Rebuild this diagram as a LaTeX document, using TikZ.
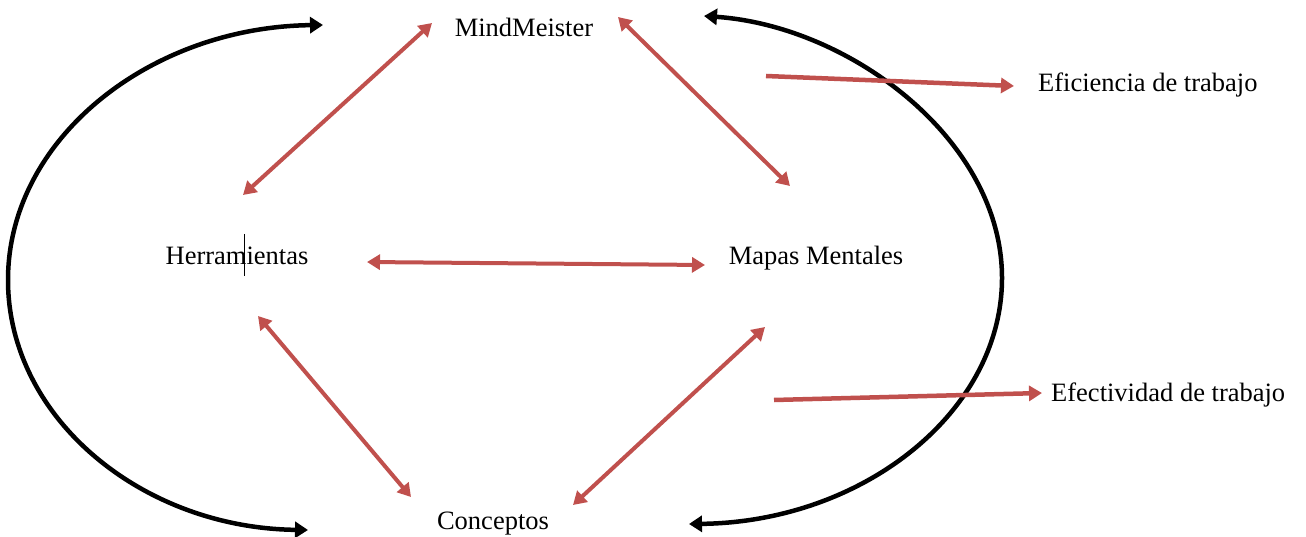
\documentclass[tikz,border=0pt]{standalone}
\usepackage{fontspec}
\setmainfont{Liberation Serif}
\usetikzlibrary{arrows.meta}
\definecolor{redarr}{RGB}{192,80,77}
\tikzset{
  lbl/.style={font=\fontsize{26.5}{30}\selectfont, anchor=base, inner sep=0pt},
  redtwo/.style={draw=redarr, line width=4pt, {Triangle[length=13pt,width=15pt]}-{Triangle[length=13pt,width=15pt]}},
  redone/.style={draw=redarr, line width=4.5pt, -{Triangle[length=13pt,width=15pt]}},
  blacktwo/.style={draw=black, line width=4.5pt, {Triangle[length=13pt,width=16pt]}-{Triangle[length=13pt,width=16pt]}}
}
\begin{document}
\begin{tikzpicture}[x=1pt,y=-1pt]
\useasboundingbox (0,0) rectangle (1306,537);
% labels
\node[lbl] (mind) at (524,37) {MindMeister};
\node[lbl] (herr) at (237,265) {Herramientas};
\node[lbl] (mapas) at (816,265) {Mapas Mentales};
\node[lbl] (conc) at (493,529) {Conceptos};
\node[lbl, anchor=base west] (efic) at (1038,92) {Eficiencia de trabajo};
\node[lbl, anchor=base west] (efec) at (1051,401) {Efectividad de trabajo};
% cursor mark
\coordinate (cur1) at (244,234);
\coordinate (cur2) at (244,276);
\draw[line width=0.8pt] (cur1) -- (cur2);
% red arrow endpoints
\coordinate (a1) at (243,195); \coordinate (a2) at (432,23);
\coordinate (b1) at (618,17);  \coordinate (b2) at (790,186);
\coordinate (c1) at (367,262); \coordinate (c2) at (705,265);
\coordinate (d1) at (258,316); \coordinate (d2) at (411,497);
\coordinate (e1) at (765,327); \coordinate (e2) at (573,505);
\coordinate (f1) at (766,76);  \coordinate (f2) at (1014,86);
\coordinate (g1) at (774,400); \coordinate (g2) at (1042,393);
\draw[redtwo] (a1) -- (a2);
\draw[redtwo] (b1) -- (b2);
\draw[redtwo] (c1) -- (c2);
\draw[redtwo] (d1) -- (d2);
\draw[redtwo] (e1) -- (e2);
% black curves
\coordinate (lt) at (323,25);
\coordinate (lm) at (8,280);
\coordinate (lb) at (308,530);
\coordinate (rt) at (704,16);
\coordinate (rm) at (1002,278);
\coordinate (rb) at (689,524);
\draw[blacktwo] (lt) .. controls (150,27) and (8,139) .. (lm) .. controls (8,418) and (142,528) .. (lb);
\draw[blacktwo] (rt) .. controls (850,26) and (1002,140) .. (rm) .. controls (1002,412) and (863,522) .. (rb);
% single red arrows on top
\draw[redone] (f1) -- (f2);
\draw[redone] (g1) -- (g2);
\end{tikzpicture}
\end{document}
